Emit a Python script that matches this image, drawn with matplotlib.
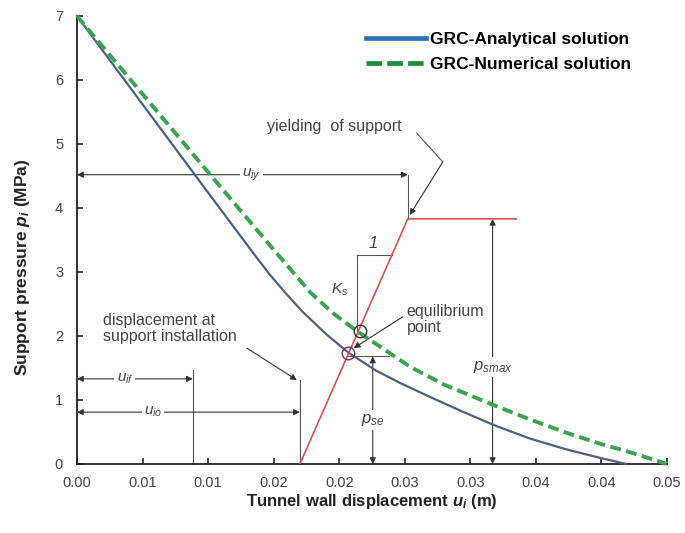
import numpy as np
import matplotlib
matplotlib.use("Agg")
import matplotlib.pyplot as plt
from matplotlib.lines import Line2D

plt.rcParams['font.family'] = ['Liberation Sans', 'DejaVu Sans']
plt.rcParams['mathtext.fontset'] = 'custom'
plt.rcParams['mathtext.rm'] = 'Liberation Sans'
plt.rcParams['mathtext.it'] = 'Liberation Sans:italic'
plt.rcParams['mathtext.bf'] = 'Liberation Sans:bold'
plt.rcParams['mathtext.bfit'] = 'Liberation Sans:italic:bold'

# ground reaction curves (displacement in m, pressure in MPa)
u_analytical = [0.0, 0.0050, 0.0100, 0.0135, 0.0147, 0.0160, 0.0172, 0.0190, 0.0207,
                0.0228, 0.0247, 0.0270, 0.0295, 0.0319, 0.0345, 0.0373, 0.0398, 0.0419]
p_analytical = [7.00, 5.62, 4.24, 3.28, 2.96, 2.65, 2.38, 2.03, 1.74,
                1.46, 1.26, 1.04, 0.81, 0.60, 0.40, 0.23, 0.10, 0.00]

u_numerical = [0.0, 0.0050, 0.0100, 0.0147, 0.0178, 0.0195, 0.0214, 0.0235, 0.0254,
               0.0280, 0.0319, 0.0345, 0.0373, 0.0400, 0.0424, 0.0450]
p_numerical = [7.00, 5.78, 4.56, 3.42, 2.68, 2.36, 2.07, 1.78, 1.52,
               1.24, 0.91, 0.70, 0.49, 0.31, 0.17, 0.00]

# support reaction line: installation, yield, end
u_support = [0.0170, 0.02523, 0.0335]
p_support = [0.0, 3.83, 3.83]

# equilibrium points
u_eq = [0.02155, 0.02070]
p_eq = [2.08, 1.73]

u_if = 0.00884
p_se = 1.68

x_ticks = [0.0, 0.005, 0.010, 0.015, 0.020, 0.025, 0.030, 0.035, 0.040, 0.045]
x_tick_labels = ["0.00", "0.01", "0.01", "0.02", "0.02", "0.03", "0.03", "0.04", "0.04", "0.05"]
y_ticks = [0, 1, 2, 3, 4, 5, 6, 7]

fig = plt.figure(figsize=(6.85, 5.33), dpi=100)
ax = fig.add_axes([0.1124, 0.1295, 0.8613, 0.8405])

ax.plot(u_analytical, p_analytical, color='#4A6283', lw=1.6, zorder=3, clip_on=False)
ax.plot(u_numerical, p_numerical, color='#3AA34F', lw=2.8, ls=(0, (2.8, 1.4)),
        zorder=3, clip_on=False)
ax.plot(u_support, p_support, color='#D9534F', lw=1.2, zorder=4)
ax.plot(u_eq[0], p_eq[0], 'o', mfc='none', mec='#333333', ms=9, mew=1.0, zorder=5)
ax.plot(u_eq[1], p_eq[1], 'o', mfc='none', mec='#7A2A4A', ms=9, mew=1.0, zorder=5)

ax.set_xlim(0, 0.045)
ax.set_ylim(0, 7)
ax.set_xticks(x_ticks)
ax.set_xticklabels(x_tick_labels)
ax.set_yticks(y_ticks)
for s in ['top', 'right']:
    ax.spines[s].set_visible(False)
for s in ['left', 'bottom']:
    ax.spines[s].set_linewidth(1.3)
    ax.spines[s].set_color('#222222')
ax.tick_params(direction='in', length=4, width=1.2, color='#222222',
               labelsize=10.5, labelcolor='#444444')
ax.tick_params(axis='x', pad=9)
ax.tick_params(axis='y', pad=10)

ax.set_xlabel(r'Tunnel wall displacement $\mathbfit{u_i}$ (m)', fontsize=12,
              fontweight='bold', color='#222222', labelpad=1)
ax.set_ylabel(r'Support pressure $\mathbfit{p_i}$ (MPa)', fontsize=12.5,
              fontweight='bold', color='#222222')
ax.yaxis.set_label_coords(-0.076, 0.44)

# annotation helpers
gray = '#555555'
txt = dict(fontsize=11.5, color='#444444')
sym = dict(fontsize=11, color='#444444')
gap = dict(facecolor='white', edgecolor='none', pad=1.5)


def arrow(x0, y0, x1, y1, style='-|>'):
    ax.annotate('', xy=(x1, y1), xytext=(x0, y0),
                arrowprops=dict(arrowstyle=style, color='#333333', lw=0.8,
                                mutation_scale=9, shrinkA=0, shrinkB=0),
                zorder=2, annotation_clip=False)


def line(xs, ys):
    ax.plot(xs, ys, color=gray, lw=0.8, zorder=2, clip_on=False)


u_yield = u_support[1]
p_smax = p_support[1]

# u_iy
arrow(u_yield, 4.52, 0, 4.52, '<|-|>')
ax.text(0.0133, 4.52, r'$u_{iy}$', ha='center', va='center', bbox=gap, zorder=6, **sym)
line([u_yield, u_yield], [4.52, p_smax])

# yielding of support
ax.text(0.01448, 5.27, 'yielding  of support', ha='left', va='center', **txt)
line([0.02591, 0.0279], [5.17, 4.72])
arrow(0.0279, 4.72, 0.02538, 3.89)

# slope triangle
p_tri = 3.27
u_tri_red = np.interp(p_tri, p_support[:2], u_support[:2])
line([0.02134, 0.02134], [p_eq[0], p_tri])
line([0.02134, u_tri_red], [p_tri, p_tri])
ax.text(0.02256, 3.45, '1', ha='center', va='center', fontstyle='italic',
        fontsize=12, color='#444444')
ax.text(0.02005, 2.72, r'$K_s$', ha='center', va='center', **sym)

# equilibrium point
ax.text(0.02515, 2.26, 'equilibrium\npoint', ha='left', va='center',
        linespacing=1.1, **txt)
arrow(0.02485, 2.30, 0.02111, 1.81)

# displacement at support installation
ax.text(0.00198, 2.12, 'displacement at\nsupport installation', ha='left', va='center',
        linespacing=1.1, **txt)
arrow(0.01296, 1.81, 0.01677, 1.31)
line([u_support[0], u_support[0]], [1.31, 0])

# u_if and u_io
arrow(u_if, 1.33, 0, 1.33, '<|-|>')
ax.text(0.00366, 1.33, r'$u_{if}$', ha='center', va='center', bbox=gap, zorder=6, **sym)
line([u_if, u_if], [1.47, 0])
arrow(u_support[0], 0.81, 0, 0.81, '<|-|>')
ax.text(0.0058, 0.81, r'$u_{io}$', ha='center', va='center', bbox=gap, zorder=6, **sym)

# p_se
x_pse = 0.02256
line([u_eq[1], 0.0238], [p_se, p_se])
arrow(x_pse, 0, x_pse, p_se, '<|-|>')
ax.text(x_pse, 0.69, r'$p_{se}$', ha='center', va='center', bbox=gap, zorder=6,
        fontsize=12, color='#444444')

# p_smax
x_psm = 0.0317
arrow(x_psm, 0, x_psm, p_smax, '<|-|>')
ax.text(x_psm, 1.52, r'$p_{smax}$', ha='center', va='center', bbox=gap, zorder=6,
        fontsize=12, color='#444444')

handles = [Line2D([], [], color='#2E75B6', lw=3.4),
           Line2D([], [], color='#1E8C3A', lw=3.4, ls=(0, (3.3, 1.1)))]
ax.legend(handles, ['GRC-Analytical solution', 'GRC-Numerical solution'],
          loc='upper left', bbox_to_anchor=(0.49, 0.965), frameon=False,
          prop=dict(size=12.5, weight='bold'), handlelength=3.45, handletextpad=0.25,
          labelspacing=0.6, borderpad=0, borderaxespad=0)

fig.savefig('out.png', dpi=100)
